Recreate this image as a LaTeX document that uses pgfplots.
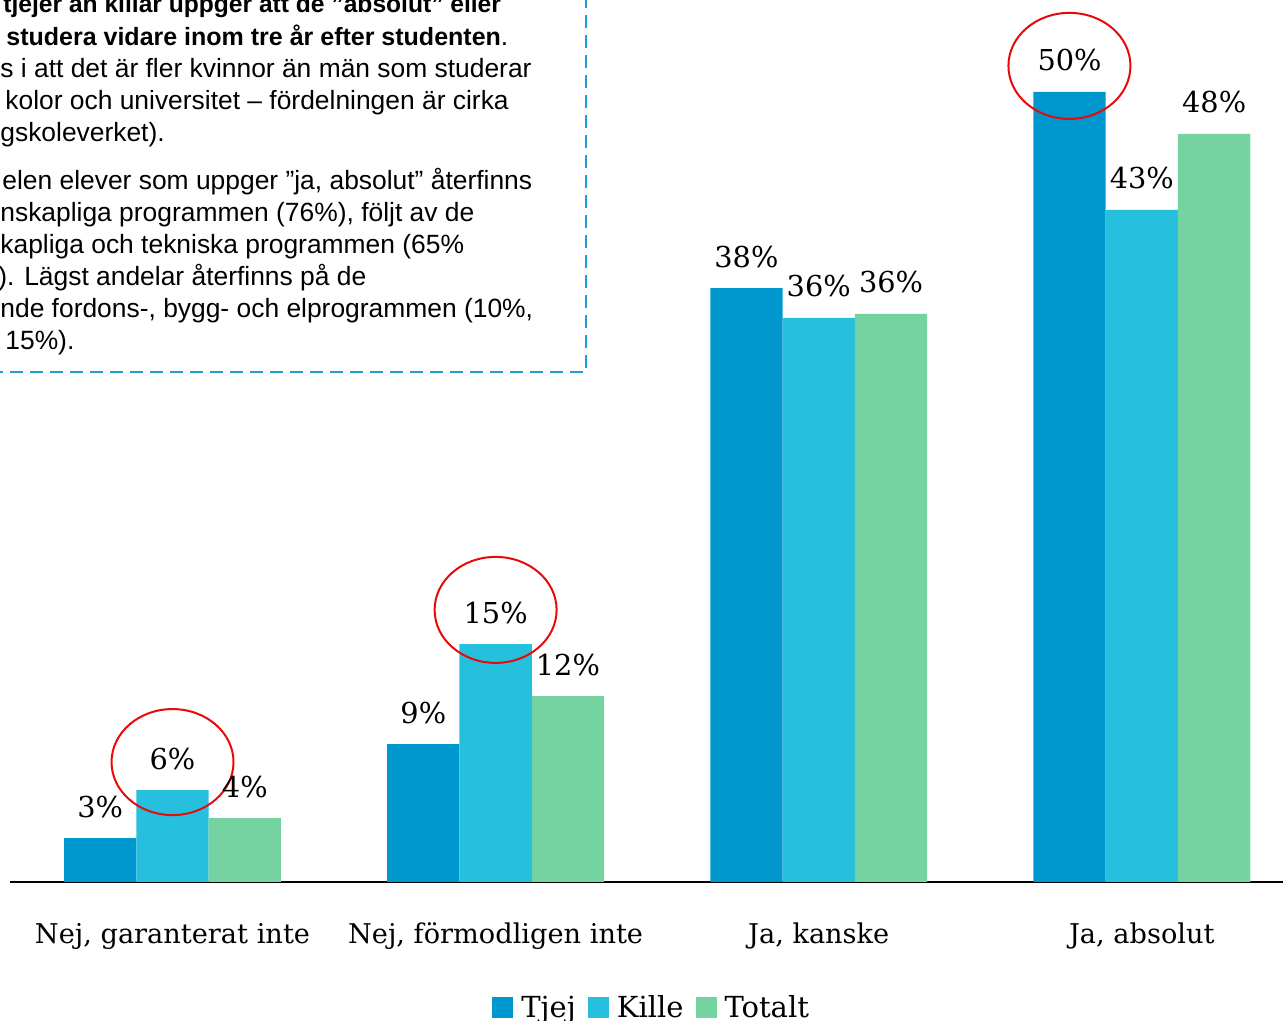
\documentclass[border=0pt]{standalone}
\usepackage{fontspec}
\setmainfont{DejaVu Serif}
\newfontfamily\boxfont{Liberation Sans}
\usepackage{pgfplots}
\pgfplotsset{compat=1.18}
\definecolor{tjej}{RGB}{0,151,206}
\definecolor{kille}{RGB}{38,192,222}
\definecolor{totalt}{RGB}{117,210,161}
\definecolor{boxblue}{RGB}{30,160,215}
\definecolor{circred}{RGB}{230,10,10}
\begin{document}
\begin{tikzpicture}
\useasboundingbox (0,0) rectangle (641.5pt,510.5pt);
\clip (0,0) rectangle (641.5pt,510.5pt);
\begin{axis}[
  at={(5pt,69.5pt)}, anchor=south west,
  scale only axis, width=636.5pt, height=441pt,
  xmin=-0.503, xmax=3.437, ymin=0, ymax=55.82,
  ybar=0pt, bar width=36.15pt,
  axis x line=bottom, axis y line=none,
  x axis line style={-, black, line width=0.6pt},
  xtick={0,1,2,3},
  xticklabels={{Nej, garanterat inte},{Nej, förmodligen inte},{Ja, kanske},{Ja, absolut}},
  xtick style={draw=none},
  xticklabel style={anchor=base, yshift=-28.5pt, inner sep=0pt, font=\fontsize{13.6}{15}\selectfont},
  ytick=\empty,
  clip=false,
  nodes near coords,
  point meta=explicit symbolic,
  every node near coord/.append style={anchor=base, yshift=10.5pt, inner sep=0pt, font=\fontsize{14.4}{16}\selectfont, text=black},
  legend columns=3,
  legend image code/.code={\fill[#1] (0pt,0pt) rectangle (10.5pt,10.5pt);},
  legend style={at={(axis description cs:0.3786,-0.1537)}, anchor=base west, draw=none, fill=none,
    inner sep=0pt, font=\fontsize{14.5}{16}\selectfont,
    cells={anchor=base west, inner sep=0pt},
    /tikz/every odd column/.append style={column sep=2pt},
    /tikz/every even column/.append style={column sep=4pt}},
]
\addplot[fill=tjej, draw=none] coordinates {(0,2.78) [3\%] (1,8.73) [9\%] (2,37.59) [38\%] (3,50.0) [50\%]};
\addplot[fill=kille, draw=none] coordinates {(0,5.82) [6\%] (1,15.06) [15\%] (2,35.70) [36\%] (3,42.53) [43\%]};
\addplot[fill=totalt, draw=none] coordinates {(0,4.05) [4\%] (1,11.77) [12\%] (2,35.95) [36\%] (3,47.34) [48\%]};
\legend{Tjej,Kille,Totalt}
\draw[circred, line width=1pt] (axis cs:0,7.59) ellipse [x radius=30.5pt, y radius=26.5pt];
\draw[circred, line width=1pt] (axis cs:1,17.22) ellipse [x radius=30.5pt, y radius=26.5pt];
\draw[circred, line width=1pt] (axis cs:2.776,51.65) ellipse [x radius=30.5pt, y radius=26.5pt];
\end{axis}
\begin{scope}[x=0.5pt,y=-0.5pt,yshift=510.5pt]
\draw[boxblue, line width=1pt, dash pattern=on 6.5pt off 3.5pt] (-10,372) -- (586,372) -- (586,-10);
\tikzset{bx/.style={anchor=base west, inner sep=0pt, font=\boxfont\fontsize{13.2}{15}\selectfont}}
\node[bx, font=\boxfont\bfseries\fontsize{12.3}{14}\selectfont] at (3,13) {tjejer än killar uppger att de ”absolut” eller};
\node[bx] at (6,46) {\bfseries\fontsize{12.5}{14}\selectfont studera vidare inom tre år efter studenten\mdseries\fontsize{13.2}{15}\selectfont.};
\node[bx] at (0,78) {s i att det är fler kvinnor än män som studerar};
\node[bx] at (5,110) {kolor och universitet – fördelningen är cirka};
\node[bx] at (0,142) {gskoleverket).};
\node[bx] at (2,190) {elen elever som uppger ”ja, absolut” återfinns};
\node[bx] at (0,222) {nskapliga programmen (76\%), följt av de};
\node[bx] at (0,254) {kapliga och tekniska programmen (65\%};
\node[bx] at (-2,286) {). Lägst andelar återfinns på de};
\node[bx] at (0,318) {nde fordons-, bygg- och elprogrammen (10\%,};
\node[bx] at (5,350) {15\%).};
\end{scope}
\end{tikzpicture}
\end{document}
